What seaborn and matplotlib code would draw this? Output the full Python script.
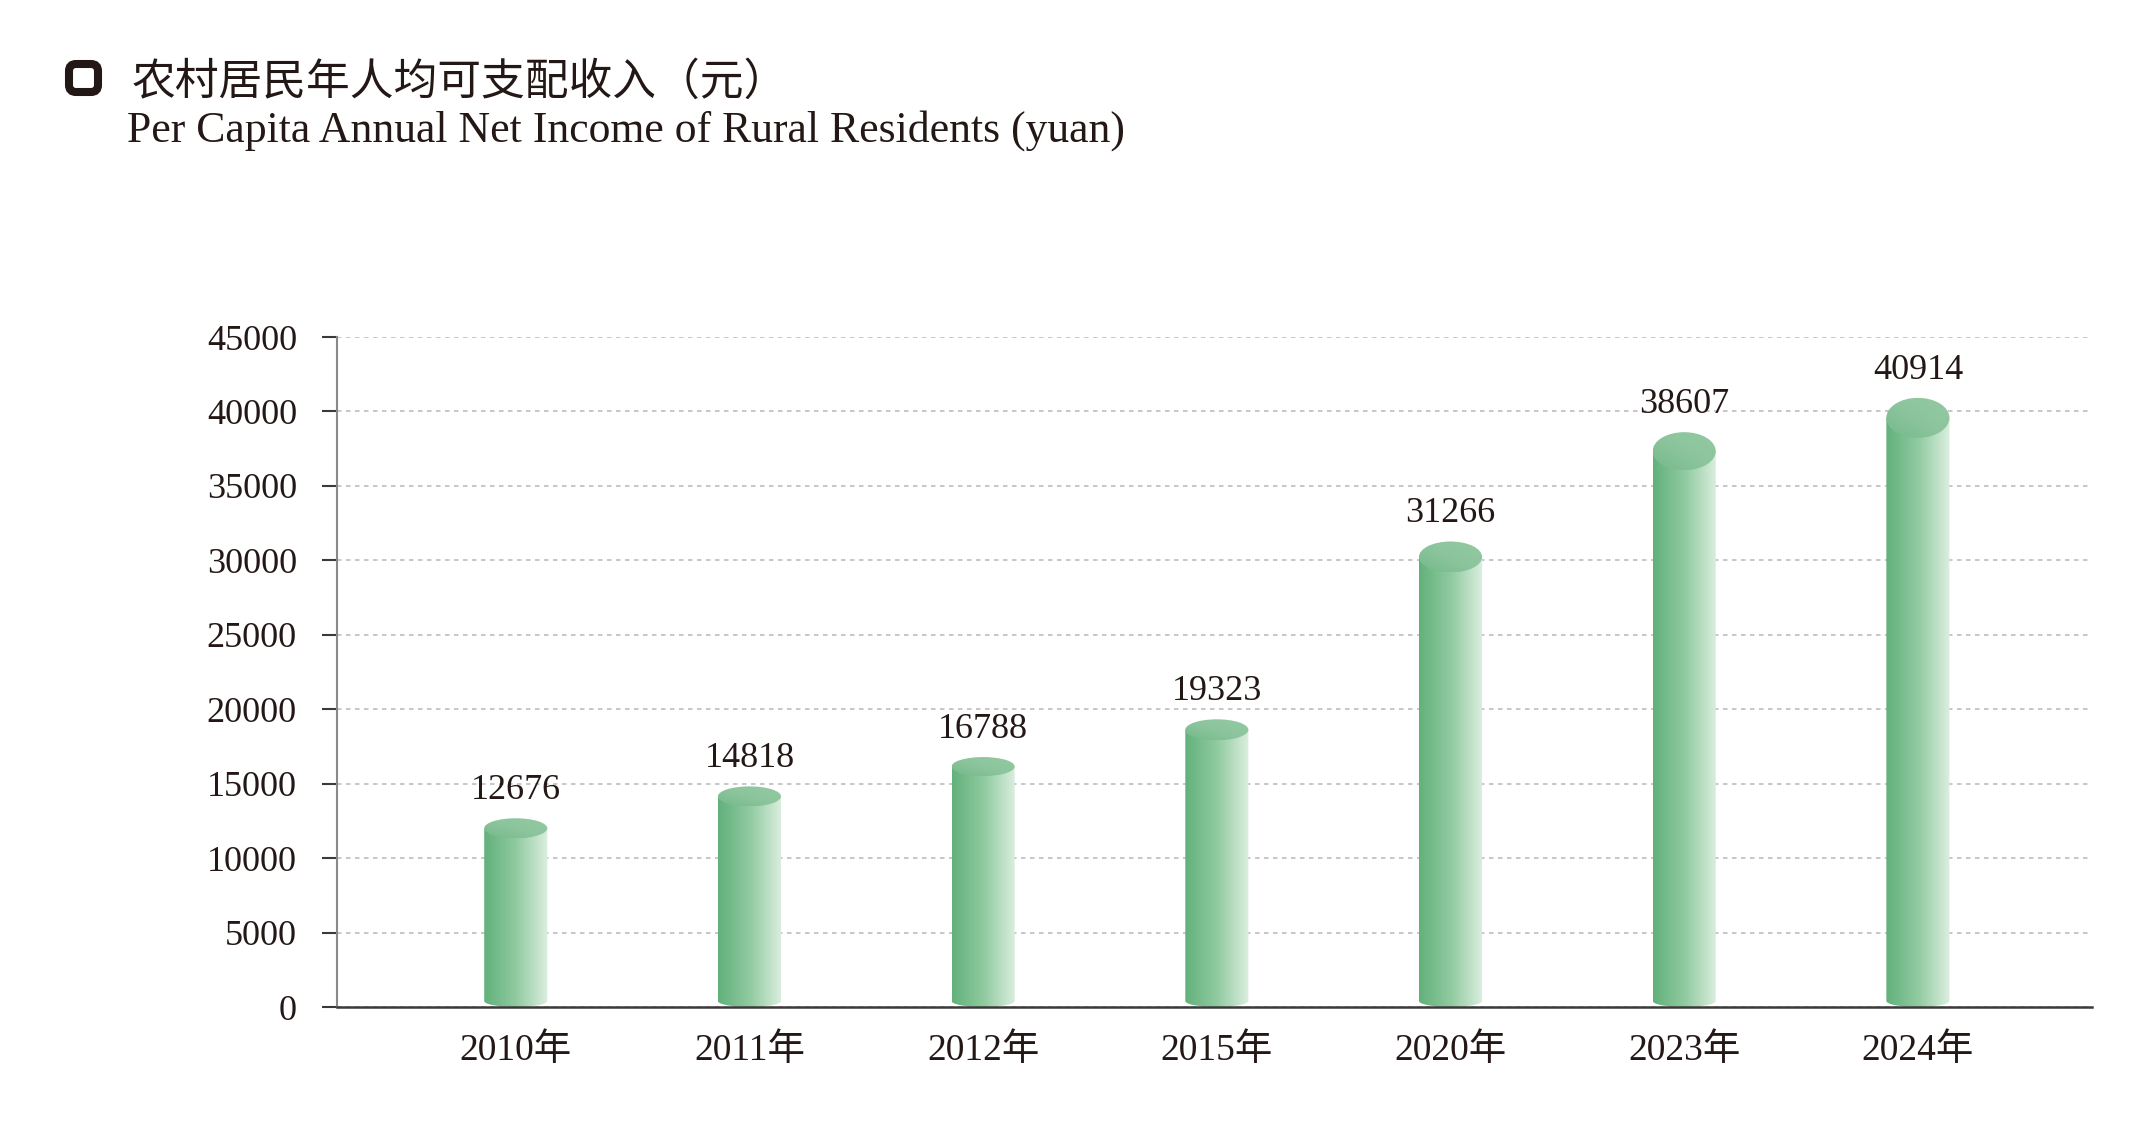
import numpy as np
import seaborn as sns
import matplotlib.pyplot as plt
from matplotlib.patches import Ellipse, FancyBboxPatch
from matplotlib.path import Path
from matplotlib.colors import LinearSegmentedColormap

# 数据
years = ['2010年', '2011年', '2012年', '2015年', '2020年', '2023年', '2024年']
income = [12676, 14818, 16788, 19323, 31266, 38607, 40914]
yticks = [0, 5000, 10000, 15000, 20000, 25000, 30000, 35000, 40000, 45000]
title_cn = '农村居民年人均可支配收入（元）'
title_en = 'Per Capita Annual Net Income of Rural Residents (yuan)'

# 样式：圆柱顶面椭圆高度（像素）
cap_px = [20, 20, 19, 21, 31, 38, 40]

ink = '#231815'
W, H = 2153, 1136

sns.set_theme(style='white')
plt.rcParams['font.family'] = ['Liberation Serif', 'Noto Sans CJK SC', 'DejaVu Sans']

fig = plt.figure(figsize=(W / 100, H / 100), dpi=100)
ax = fig.add_axes([337 / W, 1 - 1007 / H, (2092 - 337) / W, (1007 - 337) / H])

sns.barplot(x=years, y=income, width=0.27, color='#86c298', ax=ax, zorder=2)
ax.set_ylim(0, 45000)
ax.set_xlim(-0.765, 6.745)

# 圆柱：渐变柱身 + 顶部椭圆
body_cmap = LinearSegmentedColormap.from_list('body', ['#62b17b', '#90caa0', '#dcefdf'])
cap_cmap = LinearSegmentedColormap.from_list('cap', ['#76b98a', '#8cc59d', '#93c9a2'])
grad = np.linspace(0, 1, 256).reshape(1, -1)
gx, gy = np.meshgrid(np.linspace(0, 1, 64), np.linspace(0, 1, 64))
cap_grad = (gx + gy) / 2
px = 45000 / (1007 - 337)  # 每像素对应的数值
bot_h = 6 * px
for p, c in zip(ax.patches, cap_px):
    x0, w, h = p.get_x(), p.get_width(), p.get_height()
    p.set_facecolor('none')
    p.set_linewidth(0)
    top_h = c * px
    cx = x0 + w / 2
    t = np.linspace(np.pi, 2 * np.pi, 40)
    arc = np.column_stack([cx + w / 2 * np.cos(t), bot_h + bot_h * np.sin(t)])
    verts = np.vstack([[x0, h - top_h / 2], arc, [x0 + w, h - top_h / 2], [x0, h - top_h / 2]])
    im = ax.imshow(grad, extent=(x0, x0 + w, 0, h), aspect='auto', cmap=body_cmap, zorder=2)
    im.set_clip_path(Path(verts), transform=ax.transData)
    cap = Ellipse((cx, h - top_h / 2), w, top_h, facecolor='none', edgecolor='none', zorder=3)
    ax.add_patch(cap)
    im2 = ax.imshow(cap_grad, extent=(x0, x0 + w, h - top_h, h), origin='lower',
                    aspect='auto', cmap=cap_cmap, zorder=3)
    im2.set_clip_path(cap)

ax.set_ylim(0, 45000)
ax.set_xlim(-0.765, 6.745)
ax.set_yticks(yticks)
ax.set_yticklabels([str(v) for v in yticks])

ax.bar_label(ax.containers[0], labels=[str(v) for v in income], padding=8,
             fontsize=26, color=ink)

# 网格与坐标轴
ax.set_axisbelow(True)
ax.yaxis.grid(True, linestyle=(0, (2.7, 2.7)), color='#bdbdbd', linewidth=1.2)
ax.xaxis.grid(False)
for s in ['top', 'right']:
    ax.spines[s].set_visible(False)
ax.spines['left'].set_color('#8c8888')
ax.spines['left'].set_linewidth(1.5)
ax.spines['bottom'].set_color('#3a3a3a')
ax.spines['bottom'].set_linewidth(1.8)
ax.tick_params(axis='y', left=True, length=10.8, width=1.5, color='#3a3a3a',
               pad=18, labelsize=26, labelcolor=ink)
ax.tick_params(axis='x', bottom=False, length=0, pad=19, labelsize=27, labelcolor=ink)
ax.set_xlabel('')
ax.set_ylabel('')

# 标题
fig.patches.append(FancyBboxPatch((0.69, 10.44), 0.29, 0.28,
                                  boxstyle='round,pad=0,rounding_size=0.07',
                                  facecolor='white', edgecolor=ink, linewidth=5.8,
                                  transform=fig.dpi_scale_trans, figure=fig))
fig.text(132 / W, 1 - 82 / H, title_cn, fontsize=31.5, color=ink, va='center', ha='left',
         family=['Noto Sans CJK SC', 'DejaVu Sans'])
fig.text(127 / W, 1 - 142 / H, title_en, fontsize=31.5, color=ink, va='baseline', ha='left',
         family=['Liberation Serif', 'DejaVu Serif'])

fig.savefig('out.png', dpi=100)
